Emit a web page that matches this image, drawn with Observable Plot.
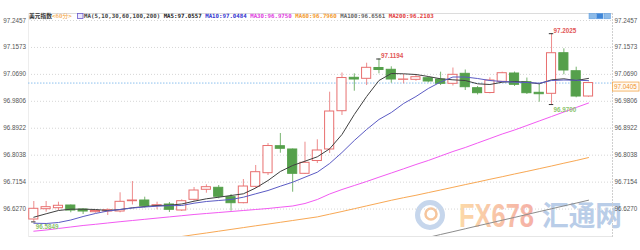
<!DOCTYPE html>
<html><head><meta charset="utf-8">
<script src="https://cdn.jsdelivr.net/npm/d3@7"></script>
<script src="https://cdn.jsdelivr.net/npm/@observablehq/plot@0.6"></script>
<style>
html,body{margin:0;padding:0;background:#fff;}
#chart{width:640px;height:250px;overflow:hidden;}
</style></head><body><div id="chart"></div>
<script>
// ---- data (60-minute candles) ----
const opens = [96.5928,96.6266,96.6299,96.6387,96.6256,96.6168,96.6190,96.6190,96.6528,96.6551,
  96.6378,96.6420,96.6223,96.6574,96.6903,96.6968,96.6660,96.6463,96.7000,96.7447,
  96.8333,96.8225,96.7427,96.7847,96.8225,96.9481,97.0577,97.0544,97.0899,97.0840,
  97.0511,97.0511,97.0564,97.0521,97.0380,97.0708,97.0236,97.0078,97.0446,97.0718,
  97.0433,97.0085,97.0052,97.1384,97.0793,96.9963];
const closes = [96.6279,96.6332,96.6378,96.6223,96.6190,96.6207,96.6233,96.6508,96.6551,96.6364,
  96.6397,96.6246,96.6528,96.6879,96.6988,96.6673,96.6463,96.7010,96.7480,96.8339,
  96.8248,96.7427,96.7788,96.8192,96.9471,97.0570,97.0521,97.0905,97.0833,97.0521,
  97.0521,97.0597,97.0456,97.0380,97.0675,97.0269,97.0072,97.0488,97.0728,97.0347,
  97.0072,97.0039,97.1384,97.0817,96.9963,97.0405];
const highs = [96.6518,96.6518,96.6495,96.6404,96.6279,96.6223,96.6279,96.6804,96.7174,96.6660,
  96.6495,96.6486,96.6574,96.6978,96.7066,96.7043,96.6748,96.7240,96.7700,96.8421,
  96.8750,96.8241,96.8464,96.8543,97.0105,97.0734,97.0708,97.1056,97.1194,97.0938,
  97.0685,97.0685,97.0597,97.0761,97.0898,97.0833,97.0292,97.0577,97.0761,97.0767,
  97.0570,97.0380,97.2025,97.1528,97.0925,97.0430];
const lows = [96.5849,96.6168,96.6223,96.6148,96.6092,96.6135,96.6059,96.6148,96.6404,96.6299,
  96.6246,96.6158,96.6190,96.6528,96.6791,96.6607,96.6200,96.6443,96.6945,96.7372,
  96.8103,96.6823,96.7404,96.7765,96.8093,96.9340,97.0137,97.0324,97.0708,97.0400,
  97.0380,97.0466,97.0413,97.0324,97.0308,97.0160,97.0013,97.0052,97.0423,97.0292,
  97.0029,96.9776,96.9700,97.0675,96.9921,96.9940];

const ma5 = [96.6003,96.6115,96.6223,96.6266,96.6266,96.6256,96.6223,96.6256,96.6312,96.6354,
  96.6387,96.6397,96.6436,96.6528,96.6607,96.6659,96.6715,96.6771,96.6961,96.7207,
  96.7503,96.7700,96.7841,96.7985,96.8247,96.8717,96.9373,96.9963,97.0488,97.0718,
  97.0708,97.0685,97.0620,97.0544,97.0511,97.0488,97.0380,97.0357,97.0433,97.0456,
  97.0433,97.0380,97.0511,97.0544,97.0488,97.0557];
const ma10 = [96.5806,96.5797,96.5829,96.5911,96.6026,96.6125,96.6207,96.6256,96.6305,96.6338,
  96.6364,96.6381,96.6387,96.6463,96.6518,96.6551,96.6584,96.6659,96.6771,96.6879,
  96.7020,96.7152,96.7316,96.7480,96.7765,96.8126,96.8520,96.8881,96.9209,96.9438,
  96.9734,96.9963,97.0226,97.0439,97.0603,97.0603,97.0554,97.0488,97.0456,97.0433,
  97.0423,97.0400,97.0488,97.0505,97.0498,97.0484];
const ma30 = [96.5544,96.5583,96.5633,96.5682,96.5731,96.5770,96.5813,96.5856,96.5895,96.5934,
  96.5974,96.6013,96.6052,96.6092,96.6125,96.6157,96.6190,96.6223,96.6256,96.6289,
  96.6331,96.6371,96.6453,96.6584,96.6765,96.6912,96.7043,96.7175,96.7316,96.7453,
  96.7591,96.7732,96.7864,96.8011,96.8159,96.8290,96.8438,96.8585,96.8733,96.8864,
  96.9012,96.9160,96.9307,96.9455,96.9603,96.9750];
const ma60 = [null,null,null,null,null,null,null,null,null,null,
  96.5252,96.5311,96.5370,96.5429,96.5485,96.5544,96.5603,96.5662,96.5721,96.5777,
  96.5836,96.5895,96.5954,96.6013,96.6102,96.6190,96.6282,96.6374,96.6466,96.6558,
  96.6643,96.6722,96.6810,96.6896,96.6984,96.7073,96.7158,96.7247,96.7332,96.7421,
  96.7506,96.7595,96.7683,96.7775,96.7864,96.7960];
const ma100 = [null,null,null,null,null,null,null,null,null,null,
  null,null,null,null,null,null,null,null,null,null,
  null,null,null,null,null,null,null,null,null,null,
  null,96.5245,96.5340,96.5436,96.5528,96.5623,96.5718,96.5810,96.5905,96.5997,
  96.6092,96.6187,96.6279,96.6374,96.6466,96.6561];

const yTicks = [97.2457, 97.1573, 97.0690, 96.9806, 96.8922, 96.8038, 96.7154, 96.6270];
const lastPrice = 97.0405;
const highMarks = [{i: 28, v: 97.1194}, {i: 42, v: 97.2025}];
const lowMarks = [{i: 42, v: 96.9700}, {i: 0, v: 96.5849}];

const headerTitle = "美元指数";
const headerPeriod = "<60分>";
const maParamLabel = "MA(5,10,30,60,100,200)";
const maNames = ["MA5", "MA10", "MA30", "MA60", "MA100", "MA200"];
const maLast = ["97.0557", "97.0484", "96.9750", "96.7960", "96.6561", "96.2103"];
const maColors = ["#222222", "#3535d0", "#e03ce0", "#f39a2c", "#666666", "#e24040"];
const lineColors = ["#404040", "#5b5bc4", "#f25af2", "#f8a854", "#8c8c8c"];
const watermarkLatin = "FX678";
const watermarkCJK = "汇通网";

// ---- build ----
const RED = "#e86f6f", GREEN = "#55a04b";
const candles = opens.map((o, i) => ({i, open: o, close: closes[i], high: highs[i], low: lows[i], up: closes[i] >= o}));
const maList = [ma5, ma10, ma30, ma60, ma100];
const lineMarks = maList.map((arr, k) =>
  Plot.line(arr.map((v, i) => ({i, v})), {x: "i", y: "v", stroke: lineColors[k], strokeWidth: 1, clip: true, curve: "linear"}));

const chart = Plot.plot({
  width: 640, height: 250,
  marginLeft: 28, marginRight: 28, marginTop: 13, marginBottom: 14,
  style: {fontFamily: "'Liberation Sans', Arial, sans-serif", fontSize: "6.3px", background: "#fff", overflow: "visible"},
  x: {domain: [-0.43, 46.945], axis: null},
  y: {domain: [96.537, 97.2687], axis: null},
  marks: [
    Plot.gridY(yTicks, {stroke: "#d6d6d6", strokeOpacity: 1, strokeDasharray: "1,2"}),
    Plot.frame({anchor: "top", stroke: "#dcdcdc"}),
    Plot.frame({anchor: "bottom", stroke: "#e6e6e6"}),
    Plot.frame({anchor: "left", stroke: "#ededed"}),
    Plot.frame({anchor: "right", stroke: "#cfcfcf", strokeDasharray: "1,2"}),
    Plot.axisY(yTicks, {anchor: "left", tickSize: 0, tickPadding: 2.5, tickFormat: d => d.toFixed(4), fill: "#555"}),
    Plot.axisY(yTicks, {anchor: "right", tickSize: 0, tickPadding: 2, tickFormat: d => d.toFixed(4), fill: "#555"}),
    Plot.ruleY([lastPrice], {stroke: "#8cc0ee", strokeDasharray: "1.5,1.5"}),
    Plot.ruleX(candles, {x: "i", y1: "low", y2: "high", stroke: d => d.up ? RED : GREEN, strokeOpacity: 0.8}),
    Plot.rect(candles, {x1: d => d.i - 0.37, x2: d => d.i + 0.37, y1: "open", y2: "close",
      fill: d => d.up ? "#ffffff" : GREEN, stroke: d => d.up ? RED : GREEN}),
    ...lineMarks,
    Plot.ruleY(highMarks, {y: "v", x1: d => d.i - 0.18, x2: d => d.i + 0.18, stroke: "#333"}),
    Plot.ruleY(lowMarks, {y: "v", x1: d => d.i - 0.18, x2: d => d.i + 0.18, stroke: "#333"}),
    Plot.text(highMarks, {x: "i", y: "v", text: d => d.v.toFixed(4), dx: 2, dy: -3, textAnchor: "start", fill: "#e25656", fontWeight: 600}),
    Plot.text(lowMarks, {x: "i", y: "v", text: d => d.v.toFixed(4), dx: 2, dy: 5, textAnchor: "start", fill: "#8cc46c", fontWeight: 600})
  ]
});

document.getElementById("chart").appendChild(chart);
const svg = d3.select(chart);

// watermark (under the chart)
const wm = svg.insert("g", ":first-child").attr("text-anchor", "start");
const defs = svg.insert("defs", ":first-child");
const grad = defs.append("linearGradient").attr("id", "wmGrad").attr("x1", "0").attr("x2", "1").attr("y1", "0").attr("y2", "0");
grad.append("stop").attr("offset", "0").attr("stop-color", "#fcd9a8");
grad.append("stop").attr("offset", "1").attr("stop-color", "#f5b0a6");
wm.append("circle").attr("cx", 430).attr("cy", 215).attr("r", 12.5).attr("fill", "none").attr("stroke", "#c6d6ec").attr("stroke-width", 5);
wm.append("circle").attr("cx", 431).attr("cy", 214).attr("r", 5.5).attr("fill", "none").attr("stroke", "#f6c59c").attr("stroke-width", 2.5);
wm.append("text").attr("x", 459).attr("y", 227).attr("text-anchor", "start").attr("font-family", "'Liberation Sans', Arial, sans-serif")
  .attr("font-weight", "bold").attr("font-size", 34).attr("textLength", 75).attr("lengthAdjust", "spacingAndGlyphs")
  .attr("fill", "url(#wmGrad)").text(watermarkLatin);
wm.append("text").attr("x", 542).attr("y", 226).attr("text-anchor", "start").attr("font-family", "'Noto Sans CJK SC', sans-serif")
  .attr("font-weight", "bold").attr("font-size", 28).attr("textLength", 80).attr("lengthAdjust", "spacingAndGlyphs")
  .attr("fill", "#b9cde8").text(watermarkCJK);

// header line
const mono = "'DejaVu Sans Mono', 'Noto Sans CJK SC', monospace";
const h1 = svg.append("text").attr("x", 29).attr("y", 17.9).attr("text-anchor", "start").attr("font-family", mono).attr("font-size", 5.75).attr("font-weight", "bold");
h1.append("tspan").attr("fill", "#333").text(headerTitle);
h1.append("tspan").attr("fill", "#f29a2e").attr("font-weight", "normal").text(headerPeriod);
svg.append("rect").attr("x", 77.5).attr("y", 13.5).attr("width", 5.5).attr("height", 5).attr("fill", "#ece8ff").attr("stroke", "#6a5acd").attr("stroke-width", 0.8);
const h2 = svg.append("text").attr("x", 84).attr("y", 17.9).attr("text-anchor", "start").attr("font-family", mono).attr("font-size", 5.75).attr("font-weight", "bold").style("white-space", "pre");
h2.append("tspan").attr("fill", "#444").text(maParamLabel + " ");
maNames.forEach((n, k) => h2.append("tspan").attr("fill", maColors[k]).text(n + ":" + maLast[k] + " "));

// small tool icons at top right
[589, 596.5, 604].forEach((x, k) => svg.append("rect").attr("x", x).attr("y", 13.3).attr("width", 6.5).attr("height", 5.5)
  .attr("fill", k === 1 ? "#3f86d8" : "#8dbbe8").attr("stroke", "#5a9ae0").attr("stroke-width", 0.5));

// last price tag
const yp = chart.scale("y").apply(lastPrice);
svg.append("rect").attr("x", 612.5).attr("y", yp - 0.5).attr("width", 26.5).attr("height", 9).attr("fill", "#fffaf2").attr("stroke", "#f3a64a").attr("stroke-width", 0.8);
svg.append("text").attr("x", 614).attr("y", yp + 4).attr("dy", "0.34em").attr("text-anchor", "start").attr("font-family", "'Liberation Sans', Arial, sans-serif")
  .attr("font-size", 6.3).attr("fill", "#f0922a").text(lastPrice.toFixed(4));
</script>
</body></html>
